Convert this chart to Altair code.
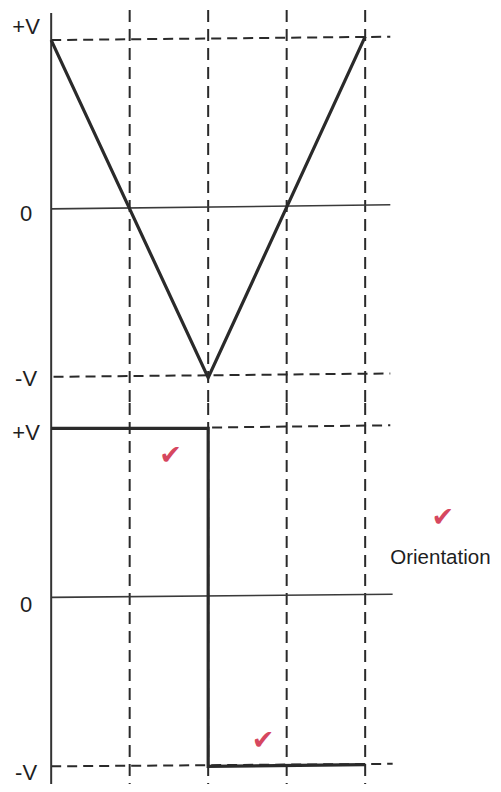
import altair as alt
import pandas as pd

# ---- data (time in quarter-periods, voltage in units of V) ----
grid_t = [1, 2, 3, 4]                      # vertical dashed guide lines
tri_t = [0, 2, 4]
tri_v = [1.0, -1.0, 1.02]                  # triangle wave (top panel)
sq_t = [0, 2, 2, 4]
sq_v = [1.0, 1.0, -1.0, -0.99]             # square wave (bottom panel)

label_text = ["+V", "0", "-V"]
top_label_v = [1.075, -0.03, -1.01]
bot_label_v = [0.97, -0.045, -1.04]
label_t = -0.32

# horizontal reference lines: start t, end t, start v, end v
top_h_dashed_t = [0.0, 0.03]
top_h_dashed_t2 = [4.32, 4.32]
top_h_dashed_v = [1.0, -0.995]
top_h_dashed_v2 = [1.02, -0.975]
top_zero = dict(t=[0.0], t2=[4.32], v=[0.0], v2=[0.024])

bot_h_dashed_t = [2.05, 0.0]
bot_h_dashed_t2 = [4.32, 4.35]
bot_h_dashed_v = [1.005, -1.0]
bot_h_dashed_v2 = [1.018, -0.985]
bot_zero = dict(t=[0.0], t2=[4.35], v=[0.0], v2=[0.018])

check_t = [1.52, 4.99, 2.70]
check_v = [0.835, 0.47, -0.85]
note_text = ["Orientation"]
note_t = [4.32]
note_v = [0.235]

# ---- scales ----
W = 485
XDOM = [-0.55, -0.55 + W / 78.5]
TOP_H = 395
BOT_H = 381
TOP_DOM = [-1.15, 1.19]
BOT_DOM = [1.15 - BOT_H / 169.0, 1.15]
INK = "#2a2a2a"
RED = "#d6475f"


def xs(field="t"):
    return alt.X(f"{field}:Q", scale=alt.Scale(domain=XDOM, nice=False, zero=False), axis=None)


def ys(dom, field="v"):
    return alt.Y(f"{field}:Q", scale=alt.Scale(domain=dom, nice=False, zero=False), axis=None)


def panel(dom, h, wave_t, wave_v, dashed_t, dashed_t2, dashed_v, dashed_v2, zero, lab_v,
          axis_top, axis_bot, grid_top, extra=None):
    grid = pd.DataFrame({"t": grid_t, "v": [grid_top] * len(grid_t), "v2": [dom[0]] * len(grid_t)})
    vgrid = alt.Chart(grid).mark_rule(color=INK, strokeWidth=2, strokeDash=[12, 7]).encode(
        x=xs(), y=ys(dom), y2="v2:Q")

    hd = pd.DataFrame({"t": dashed_t, "t2": dashed_t2, "v": dashed_v, "v2": dashed_v2})
    hdash = alt.Chart(hd).mark_rule(color=INK, strokeWidth=2, strokeDash=[10, 6]).encode(
        x=xs(), x2="t2:Q", y=ys(dom), y2="v2:Q")

    hz = pd.DataFrame(zero)
    hzero = alt.Chart(hz).mark_rule(color="#3a3a3a", strokeWidth=1.6).encode(
        x=xs(), x2="t2:Q", y=ys(dom), y2="v2:Q")

    ax = pd.DataFrame({"t": [0.0], "v": [axis_top], "v2": [axis_bot]})
    vaxis = alt.Chart(ax).mark_rule(color="#333333", strokeWidth=2).encode(
        x=xs(), y=ys(dom), y2="v2:Q")

    wv = pd.DataFrame({"t": wave_t, "v": wave_v, "o": list(range(len(wave_t)))})
    wave = alt.Chart(wv).mark_line(color=INK, strokeWidth=3.2, strokeJoin="miter").encode(
        x=xs(), y=ys(dom), order="o:Q")

    lb = pd.DataFrame({"t": [label_t] * 3, "v": lab_v, "txt": label_text})
    labels = alt.Chart(lb).mark_text(font="Liberation Sans", fontSize=22, color="#1e1e1e",
                                     align="center", baseline="middle").encode(
        x=xs(), y=ys(dom), text="txt:N")

    layers = [vgrid, hdash, hzero, vaxis, wave, labels]
    if extra is not None:
        layers += extra(dom)
    return alt.layer(*layers).properties(width=W, height=h)


def bottom_extra(dom):
    ck = pd.DataFrame({"t": check_t, "v": check_v, "txt": ["✔"] * len(check_t)})
    checks = alt.Chart(ck).mark_text(font="DejaVu Sans", fontSize=27,
                                     color=RED, align="center", baseline="middle").encode(
        x=xs(), y=ys(dom), text="txt:N")
    nt = pd.DataFrame({"t": note_t, "v": note_v, "txt": note_text})
    note = alt.Chart(nt).mark_text(font="Liberation Sans", fontSize=20.5, color="#1e1e1e",
                                   align="left", baseline="middle").encode(
        x=xs(), y=ys(dom), text="txt:N")
    return [checks, note]


top = panel(TOP_DOM, TOP_H, tri_t, tri_v, top_h_dashed_t, top_h_dashed_t2, top_h_dashed_v,
            top_h_dashed_v2, top_zero, top_label_v, 1.16, TOP_DOM[0], 1.178)
bottom = panel(BOT_DOM, BOT_H, sq_t, sq_v, bot_h_dashed_t, bot_h_dashed_t2, bot_h_dashed_v,
               bot_h_dashed_v2, bot_zero, bot_label_v, BOT_DOM[1], BOT_DOM[0], BOT_DOM[1],
               extra=bottom_extra)

chart = alt.vconcat(top, bottom, spacing=0).properties(
    padding=0, bounds="flush", background="white"
).configure_view(stroke=None)

chart.save("out.html", embed_options={"renderer": "svg", "actions": False})
